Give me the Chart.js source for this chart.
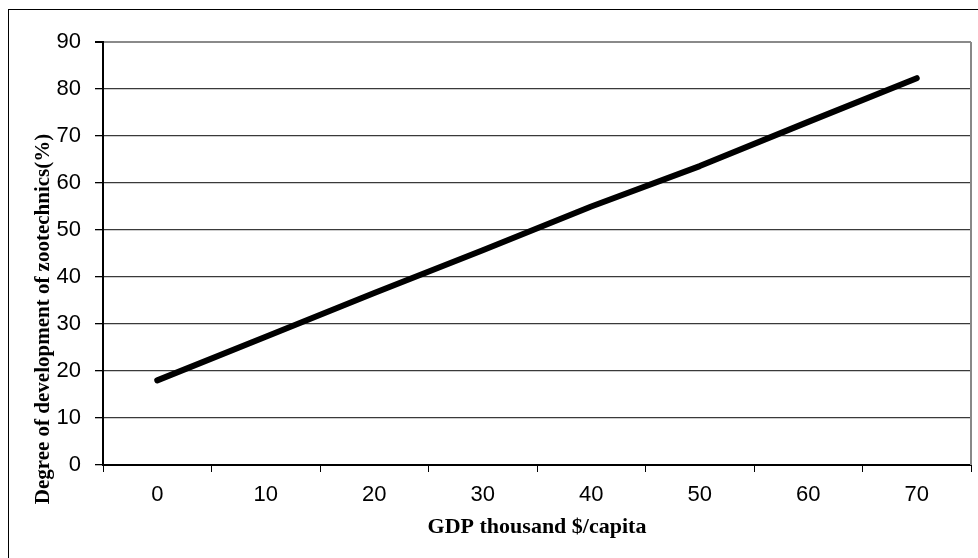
<!DOCTYPE html>
<html>
<head>
<meta charset="utf-8">
<script src="https://cdn.jsdelivr.net/npm/chart.js@4/dist/chart.umd.min.js"></script>
<style>
  html, body { margin: 0; padding: 0; background: #fff; overflow: hidden; }
  #wrap { position: relative; width: 978px; height: 558px; }
  #frame { position: absolute; left: 8px; top: 9px; width: 1200px; height: 1200px; border: 1px solid #000; box-sizing: border-box; }
  canvas { position: absolute; left: 0; top: 0; }
</style>
</head>
<body>
<div id="wrap">
  <div id="frame"></div>
  <canvas id="c" width="978" height="558"></canvas>
</div>
<script>
const categories = ["0", "10", "20", "30", "40", "50", "60", "70"];
const developmentValues = [18, 27.3, 36.6, 45.7, 55, 63.6, 73, 82.3];
const yTicks = [0, 10, 20, 30, 40, 50, 60, 70, 80, 90];
const xTitle = "GDP thousand $/capita";
const yTitle = "Degree of development of zootechnics(%)";

const frameAndTitle = {
  id: 'frameAndTitle',
  afterDraw(chart) {
    const ctx = chart.ctx;
    const a = chart.chartArea;
    ctx.save();
    ctx.strokeStyle = '#888';
    ctx.lineWidth = 2;
    ctx.beginPath();
    ctx.moveTo(a.right, a.top);
    ctx.lineTo(a.right, a.bottom);
    ctx.stroke();
    ctx.restore();
    ctx.save();
    ctx.translate(49, 319);
    ctx.rotate(-Math.PI / 2);
    ctx.font = 'bold 21px "Liberation Serif", "Times New Roman", serif';
    ctx.fillStyle = '#000';
    ctx.textAlign = 'center';
    ctx.textBaseline = 'alphabetic';
    ctx.fillText(yTitle, 0, 0);
    ctx.restore();
  }
};

new Chart(document.getElementById('c'), {
  type: 'line',
  data: {
    labels: categories,
    datasets: [{
      data: developmentValues,
      borderColor: '#000',
      borderWidth: 6,
      borderCapStyle: 'round',
      borderJoinStyle: 'round',
      pointRadius: 0,
      tension: 0,
      fill: false
    }]
  },
  options: {
    responsive: false,
    devicePixelRatio: 1,
    animation: false,
    layout: { padding: { top: 42, right: 7, left: 0, bottom: 0 } },
    plugins: { legend: { display: false }, tooltip: { enabled: false } },
    scales: {
      x: {
        type: 'category',
        offset: true,
        grid: { display: true, drawOnChartArea: false, drawTicks: true, tickLength: 7, tickColor: '#000', offset: true },
        border: { display: true, color: '#000', width: 2 },
        ticks: { color: '#000', padding: 10, maxRotation: 0, font: { family: '"Liberation Sans", Arial, sans-serif', size: 22 } },
        title: { display: true, text: xTitle, color: '#000', font: { family: '"Liberation Serif", "Times New Roman", serif', size: 22, weight: 'bold' }, padding: { top: 0, bottom: 17 } },
        afterFit(s) { s.height = 93; }
      },
      y: {
        min: 0, max: 90,
        afterBuildTicks(s) { s.ticks = yTicks.map(v => ({ value: v })); },
        grid: {
          color: ctx => (ctx.tick && ctx.tick.value === 90) ? '#8a8a8a' : '#3a3a3a',
          lineWidth: ctx => (ctx.tick && ctx.tick.value === 90) ? 2 : 1.3,
          tickColor: '#000', tickLength: 8, drawTicks: true
        },
        border: { display: true, color: '#000', width: 2 },
        ticks: { color: '#000', padding: 14, font: { family: '"Liberation Sans", Arial, sans-serif', size: 22 } },
        afterFit(s) { s.width = 103; }
      }
    }
  },
  plugins: [frameAndTitle]
});
</script>
</body>
</html>
